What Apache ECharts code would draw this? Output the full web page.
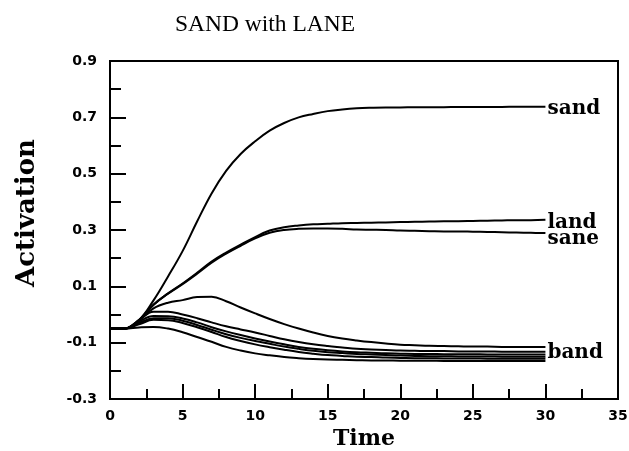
<!DOCTYPE html>
<html>
<head>
<meta charset="utf-8">
<script src="https://cdn.jsdelivr.net/npm/echarts@6/dist/echarts.min.js"></script>
<style>html,body{margin:0;padding:0;background:#fff}#c{width:629px;height:451px}</style>
</head>
<body>
<div id="c"></div>
<script>
var times  = [0, 1, 2, 3, 4, 5, 6, 7, 8, 9, 10, 11, 12, 13, 14, 15, 16, 17, 18, 19, 20, 21, 22, 23, 24, 25, 26, 27, 28, 29, 30];
var sand   = [-0.05, -0.05, -0.02, 0.05, 0.135, 0.225, 0.33, 0.43, 0.51, 0.57, 0.615, 0.653, 0.68, 0.70, 0.712, 0.722, 0.728, 0.732, 0.734, 0.735, 0.735, 0.736, 0.736, 0.736, 0.737, 0.737, 0.737, 0.737, 0.738, 0.738, 0.738];
var land   = [-0.05, -0.05, -0.02, 0.035, 0.075, 0.11, 0.148, 0.188, 0.22, 0.248, 0.275, 0.298, 0.31, 0.316, 0.32, 0.322, 0.324, 0.325, 0.326, 0.327, 0.328, 0.329, 0.33, 0.331, 0.331, 0.332, 0.333, 0.334, 0.335, 0.335, 0.336];
var sane   = [-0.05, -0.05, -0.02, 0.035, 0.074, 0.108, 0.145, 0.184, 0.216, 0.244, 0.27, 0.29, 0.3, 0.304, 0.305, 0.305, 0.304, 0.302, 0.301, 0.3, 0.298, 0.297, 0.296, 0.295, 0.295, 0.294, 0.293, 0.292, 0.291, 0.29, 0.289];
var band   = [-0.05, -0.05, -0.02, 0.022, 0.042, 0.051, 0.062, 0.063, 0.047, 0.025, 0.004, -0.016, -0.034, -0.05, -0.064, -0.076, -0.085, -0.092, -0.098, -0.103, -0.107, -0.109, -0.111, -0.112, -0.113, -0.114, -0.114, -0.115, -0.115, -0.115, -0.115];
var other1 = [-0.05, -0.05, -0.02, 0.01, 0.01, 0.0, -0.013, -0.028, -0.042, -0.053, -0.064, -0.076, -0.088, -0.098, -0.106, -0.112, -0.117, -0.122, -0.124, -0.126, -0.128, -0.129, -0.13, -0.13, -0.131, -0.131, -0.131, -0.132, -0.132, -0.132, -0.132];
var other2 = [-0.05, -0.05, -0.025, -0.005, -0.006, -0.014, -0.028, -0.045, -0.06, -0.073, -0.085, -0.096, -0.106, -0.115, -0.122, -0.127, -0.131, -0.134, -0.136, -0.138, -0.139, -0.14, -0.14, -0.141, -0.141, -0.141, -0.142, -0.142, -0.142, -0.142, -0.142];
var other3 = [-0.05, -0.05, -0.03, -0.013, -0.013, -0.022, -0.037, -0.054, -0.07, -0.083, -0.094, -0.104, -0.114, -0.122, -0.129, -0.134, -0.137, -0.14, -0.142, -0.144, -0.146, -0.147, -0.148, -0.148, -0.149, -0.149, -0.149, -0.15, -0.15, -0.15, -0.15];
var other4 = [-0.05, -0.05, -0.035, -0.019, -0.02, -0.03, -0.045, -0.062, -0.08, -0.094, -0.106, -0.116, -0.125, -0.133, -0.139, -0.144, -0.147, -0.15, -0.151, -0.153, -0.154, -0.155, -0.155, -0.156, -0.156, -0.156, -0.157, -0.157, -0.157, -0.157, -0.157];
var other5 = [-0.05, -0.05, -0.046, -0.044, -0.05, -0.063, -0.08, -0.097, -0.115, -0.128, -0.138, -0.145, -0.151, -0.155, -0.158, -0.16, -0.161, -0.162, -0.163, -0.163, -0.164, -0.164, -0.164, -0.165, -0.165, -0.165, -0.165, -0.165, -0.165, -0.165, -0.165];
var xTicks = [0, 5, 10, 15, 20, 25, 30, 35];
var yTicks = [-0.3, -0.1, 0.1, 0.3, 0.5, 0.7, 0.9];
var titleText = 'SAND with LANE';
var xName = 'Time';
var yName = 'Activation';

function pairs(vals) { return times.map(function (t, i) { return [t, vals[i]]; }); }
var labelFont = { fontFamily: 'DejaVu Serif', fontWeight: 'bold', fontSize: 20, color: '#000' };
function mk(name, vals, label, offset) {
  var s = {
    name: name, type: 'line', data: pairs(vals), smooth: 0.4, showSymbol: false, symbol: 'none',
    lineStyle: { color: '#000', width: 2 }, animation: false, silent: true
  };
  if (label) {
    s.endLabel = Object.assign({ show: true, formatter: label, distance: 2, offset: offset || [0, 0] }, labelFont);
  }
  return s;
}

var chart = echarts.init(document.getElementById('c'), null, { renderer: 'canvas' });
chart.setOption({
  animation: false,
  backgroundColor: '#fff',
  title: { text: titleText, left: 260, top: 8, textAlign: 'center',
    textStyle: { fontFamily: 'Liberation Serif', fontWeight: 'normal', fontSize: 23.5, color: '#000' } },
  grid: { left: 110, right: 11, top: 61, bottom: 52, show: true, borderColor: '#000', borderWidth: 2,
    backgroundColor: 'transparent', containLabel: false, outerBoundsMode: 'none' },
  xAxis: {
    type: 'value', min: 0, max: 35, interval: 5,
    name: xName, nameLocation: 'middle', nameGap: 25,
    nameTextStyle: { fontFamily: 'DejaVu Serif', fontWeight: 'bold', fontSize: 22, color: '#000' },
    axisLine: { onZero: false, lineStyle: { color: '#000', width: 2 } },
    axisTick: { inside: true, length: 15, lineStyle: { color: '#000', width: 2 } },
    minorTick: { show: true, splitNumber: 2, length: 10, lineStyle: { color: '#000', width: 2 } },
    splitLine: { show: false },
    axisLabel: { fontFamily: 'DejaVu Sans', fontWeight: 'bold', fontSize: 14, color: '#000', margin: 10,
      formatter: function (v) { return xTicks.indexOf(Math.round(v)) >= 0 ? String(Math.round(v)) : ''; } }
  },
  yAxis: {
    type: 'value', min: -0.3, max: 0.9, interval: 0.2,
    name: yName, nameLocation: 'middle', nameGap: 70, nameRotate: 90,
    nameTextStyle: { fontFamily: 'DejaVu Serif', fontWeight: 'bold', fontSize: 26, color: '#000', padding: [0, 0, 0, 34] },
    axisLine: { onZero: false, lineStyle: { color: '#000', width: 2 } },
    axisTick: { inside: true, length: 16, lineStyle: { color: '#000', width: 2 } },
    minorTick: { show: true, splitNumber: 2, length: 11, lineStyle: { color: '#000', width: 2 } },
    splitLine: { show: false },
    axisLabel: { fontFamily: 'DejaVu Sans', fontWeight: 'bold', fontSize: 14, color: '#000', margin: 13,
      formatter: function (v) { return v.toFixed(1); } }
  },
  series: [
    mk('sand', sand, 'sand', [0, 2]),
    mk('land', land, 'land', [0, 3]),
    mk('sane', sane, 'sane', [0, 6]),
    mk('band', band, 'band', [0, 6]),
    mk('o1', other1), mk('o2', other2), mk('o3', other3), mk('o4', other4), mk('o5', other5)
  ]
});
</script>
</body>
</html>
